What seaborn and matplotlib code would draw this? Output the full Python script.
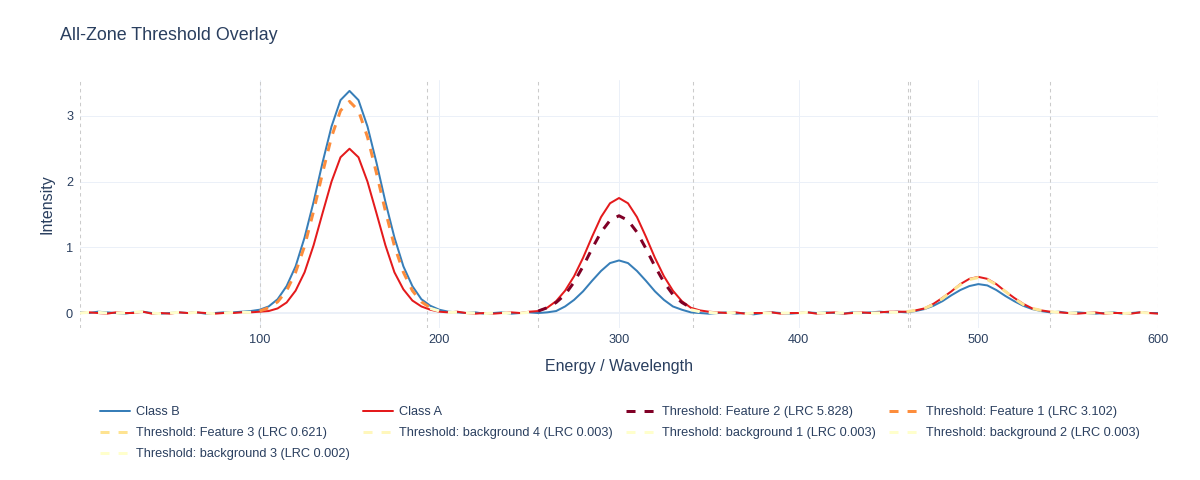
import numpy as np
import pandas as pd
import matplotlib
matplotlib.use("Agg")
import matplotlib.pyplot as plt
import seaborn as sns

# ---------------- data ----------------
x_grid = np.arange(0, 601, 5)

class_b = [
    0.01, 0.00, 0.02, 0.01, 0.00, -0.01, 0.01, 0.02, 0.00, -0.01,
    0.00, 0.01, 0.00, 0.01, -0.01, 0.00, 0.01, 0.01, 0.02, 0.03,
    0.05, 0.10, 0.21, 0.41, 0.71, 1.15, 1.69, 2.29, 2.84, 3.24,
    3.38, 3.24, 2.84, 2.29, 1.69, 1.15, 0.71, 0.41, 0.21, 0.11,
    0.05, 0.02, 0.01, 0.00, 0.01, -0.01, 0.00, 0.01, -0.01, 0.00,
    0.01, 0.00, 0.01, 0.03, 0.10, 0.20, 0.33, 0.49, 0.64, 0.76,
    0.80, 0.76, 0.64, 0.49, 0.33, 0.20, 0.10, 0.05, 0.01, 0.00,
    -0.01, 0.00, 0.01, -0.01, 0.00, -0.02, 0.00, 0.01, 0.00, -0.01,
    0.00, 0.01, 0.00, 0.01, 0.00, -0.01, 0.01, 0.00, 0.01, 0.02,
    0.01, 0.02, 0.01, 0.03, 0.06, 0.11, 0.18, 0.27, 0.35, 0.41,
    0.44, 0.42, 0.35, 0.26, 0.18, 0.11, 0.06, 0.03, 0.01, 0.02,
    0.00, 0.01, 0.00, -0.01, 0.00, 0.01, -0.01, 0.00, 0.01, 0.00,
    0.00,
]

class_a = [
    0.00, 0.01, 0.00, -0.01, 0.01, 0.00, 0.00, 0.02, -0.01, 0.00,
    -0.01, 0.01, 0.00, 0.01, 0.00, -0.01, 0.00, 0.00, 0.01, 0.01,
    0.02, 0.03, 0.07, 0.16, 0.34, 0.62, 1.03, 1.52, 2.00, 2.37,
    2.50, 2.37, 2.00, 1.52, 1.03, 0.62, 0.36, 0.19, 0.10, 0.05,
    0.02, 0.01, 0.02, 0.00, -0.01, 0.00, -0.01, 0.00, 0.01, 0.00,
    0.02, 0.03, 0.08, 0.18, 0.34, 0.56, 0.84, 1.16, 1.46, 1.67,
    1.75, 1.67, 1.46, 1.16, 0.84, 0.56, 0.34, 0.18, 0.08, 0.04,
    0.02, 0.01, 0.00, 0.01, -0.01, 0.00, 0.00, 0.01, -0.01, 0.00,
    0.00, 0.01, -0.01, 0.00, 0.01, -0.01, 0.00, 0.01, 0.00, 0.01,
    0.02, 0.02, 0.02, 0.04, 0.07, 0.14, 0.23, 0.33, 0.44, 0.52,
    0.55, 0.52, 0.44, 0.33, 0.23, 0.14, 0.07, 0.04, 0.02, 0.01,
    0.00, -0.01, 0.00, 0.01, -0.01, 0.00, 0.00, -0.01, 0.01, 0.00,
    -0.01,
]

# threshold curves, each over its own zone
f1_x = np.arange(100, 196, 5)
f1_y = [0.03, 0.08, 0.17, 0.34, 0.62, 1.02, 1.55, 2.13, 2.68, 3.08,
        3.22, 3.08, 2.68, 2.13, 1.55, 1.02, 0.62, 0.34, 0.17, 0.08]
f2_x = np.arange(255, 341, 5)
f2_y = [0.03, 0.08, 0.16, 0.28, 0.47, 0.71, 0.98, 1.23, 1.41,
        1.48, 1.41, 1.23, 0.98, 0.71, 0.47, 0.28, 0.16, 0.08]
f3_x = np.arange(460, 541, 5)
f3_y = [0.02, 0.04, 0.07, 0.13, 0.22, 0.33, 0.43, 0.51, 0.54,
        0.51, 0.43, 0.33, 0.22, 0.13, 0.07, 0.04, 0.02]
bg1_x = np.arange(0, 101, 5)
bg1_y = [0.00, 0.01, 0.01, 0.00, 0.00, 0.00, 0.01, 0.02, 0.00, -0.01,
         0.00, 0.01, 0.00, 0.01, 0.00, -0.01, 0.00, 0.01, 0.01, 0.01, 0.02]
bg2_x = np.arange(195, 256, 5)
bg2_y = [0.07, 0.03, 0.01, 0.01, 0.00, 0.00, -0.01, 0.00, 0.00, 0.00,
         0.00, 0.01, 0.01]
bg3_x = np.arange(340, 461, 5)
bg3_y = [0.05, 0.02, 0.01, 0.00, 0.01, 0.00, -0.01, 0.00, 0.00, 0.00,
         0.00, 0.00, 0.00, 0.01, 0.00, 0.00, 0.00, 0.00, 0.00, 0.00,
         0.00, 0.00, 0.01, 0.01, 0.01]
bg4_x = np.arange(540, 601, 5)
bg4_y = [0.02, 0.01, 0.00, 0.00, 0.00, 0.00, 0.00, 0.00, -0.01, 0.00,
         0.01, 0.00, 0.00]

zone_edges = [0, 100, 193, 255, 341, 461, 540, 600]

# ---------------- style ----------------
sns.set_theme(style="white")
plt.rcParams["font.family"] = ["Liberation Sans", "DejaVu Sans"]
plt.rcParams["lines.scale_dashes"] = False
TXT = "#2a3f5f"
GRID = "#ebf0f8"

W, H = 1200, 480
fig = plt.figure(figsize=(12, 4.8), dpi=100)
fig.patch.set_facecolor("white")
L, R, T, B = 80, 1158, 80, 328
ax = fig.add_axes([L / W, 1 - B / H, (R - L) / W, (B - T) / H])
ax.set_facecolor("white")

for s in ax.spines.values():
    s.set_visible(False)

ax.set_xlim(0, 600)
ax.set_ylim(-0.228, 3.546)
ax.set_xticks([100, 200, 300, 400, 500, 600])
ax.set_yticks([0, 1, 2, 3])
ax.tick_params(axis="both", length=0, labelsize=9.2, colors=TXT)
ax.tick_params(axis="x", pad=4)
ax.tick_params(axis="y", pad=5)
ax.grid(True, color=GRID, linewidth=0.72, zorder=0)
ax.axhline(0, color=GRID, linewidth=1.44, zorder=0.5)

for e in zone_edges:
    ax.axvline(e, color="#cbcbcb", linewidth=0.75, linestyle=(0, (2.5, 2.5)), zorder=1)
ax.axvline(461.8, color="#cbcbcb", linewidth=0.75, linestyle=(0, (2.5, 2.5)), zorder=1)

lw_c = 1.44
lw_t = 2.16
dash = (0, (6.5, 6.5))

sns.lineplot(x=x_grid, y=class_b, ax=ax, color="#377eb8", linewidth=lw_c,
             estimator=None, label="Class B", zorder=3)
sns.lineplot(x=x_grid, y=class_a, ax=ax, color="#e41a1c", linewidth=lw_c,
             estimator=None, label="Class A", zorder=3)

thr = [
    (f2_x, f2_y, "#800026", "Threshold: Feature 2 (LRC 5.828)"),
    (f1_x, f1_y, "#fd8d3c", "Threshold: Feature 1 (LRC 3.102)"),
    (f3_x, f3_y, "#fee391", "Threshold: Feature 3 (LRC 0.621)"),
    (bg4_x, bg4_y, "#fff7bc", "Threshold: background 4 (LRC 0.003)"),
    (bg1_x, bg1_y, "#ffffcc", "Threshold: background 1 (LRC 0.003)"),
    (bg2_x, bg2_y, "#ffffcc", "Threshold: background 2 (LRC 0.003)"),
    (bg3_x, bg3_y, "#ffffcc", "Threshold: background 3 (LRC 0.002)"),
]
for xx, yy, c, lab in thr:
    sns.lineplot(x=xx, y=yy, ax=ax, color=c, linewidth=lw_t, linestyle=dash,
                 estimator=None, label=lab, zorder=4)

ax.set_xlabel("")
ax.set_ylabel("")

handles, labels = ax.get_legend_handles_labels()
hmap = dict(zip(labels, handles))
order = [
    "Class B", "Threshold: Feature 3 (LRC 0.621)", "Threshold: background 3 (LRC 0.002)",
    "Class A", "Threshold: background 4 (LRC 0.003)",
    "Threshold: Feature 2 (LRC 5.828)", "Threshold: background 1 (LRC 0.003)",
    "Threshold: Feature 1 (LRC 3.102)", "Threshold: background 2 (LRC 0.003)",
]
leg = ax.legend([hmap[k] for k in order], order, ncol=4, loc="upper left",
                bbox_to_anchor=(100 / W, 1 - 406 / H), bbox_transform=fig.transFigure,
                frameon=False, fontsize=9.2, handlelength=2.35, handletextpad=0.5,
                columnspacing=1.0, labelspacing=0.72, borderpad=0, borderaxespad=0)
for t in leg.get_texts():
    t.set_color(TXT)

fig.text(60 / W, 1 - 40 / H, "All-Zone Threshold Overlay", fontsize=12.9,
         color=TXT, ha="left", va="baseline")
fig.text(47 / W, 1 - 204 / H, "Intensity", fontsize=11.52, color=TXT,
         rotation=90, ha="center", va="center")
fig.text(619 / W, 1 - 366 / H, "Energy / Wavelength", fontsize=11.52, color=TXT,
         ha="center", va="center")

fig.savefig("out.png", dpi=100, facecolor="white")
